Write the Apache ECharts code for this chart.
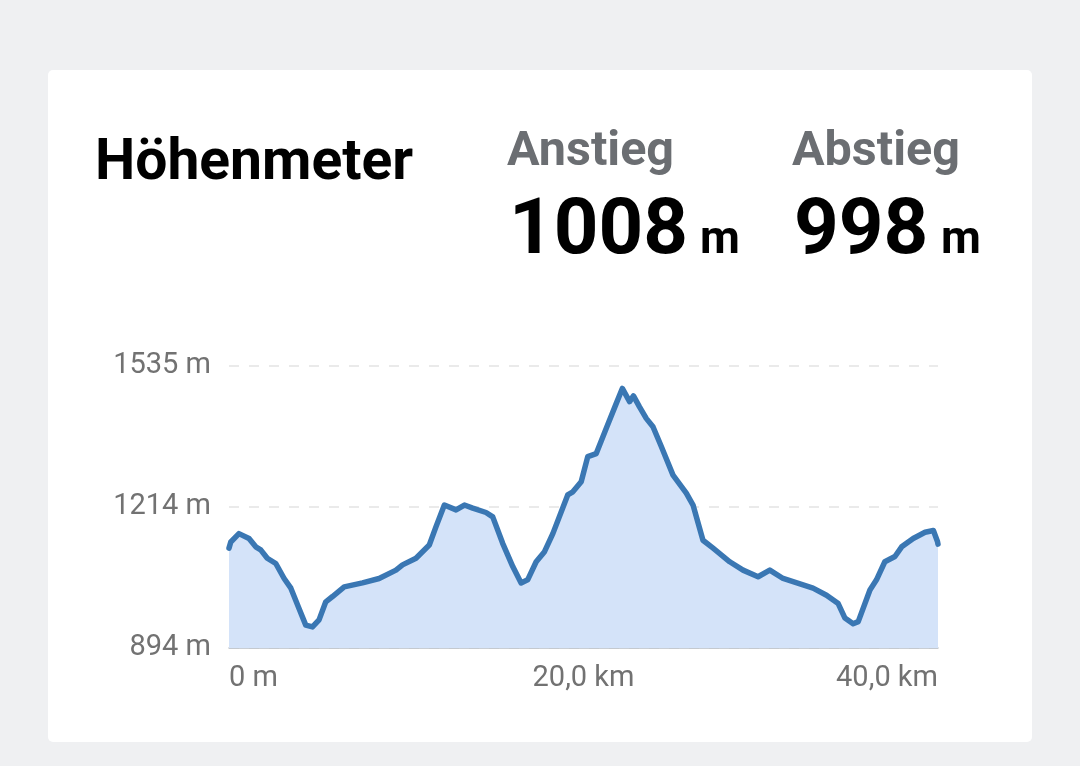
<!DOCTYPE html>
<html>
<head>
<meta charset="utf-8">
<script src="https://cdn.jsdelivr.net/npm/echarts@6/dist/echarts.min.js"></script>
<style>
html,body{margin:0;padding:0;background:#eff0f2;}
#chart{width:1080px;height:766px;}
</style>
</head>
<body>
<div id="chart"></div>
<script>
// Distance along route (km)
const distanceKm = [0, 0.10, 0.56, 1.13, 1.51, 1.79, 2.16, 2.64, 3.11, 3.49, 3.95, 4.33, 4.71, 5.08, 5.46, 5.84, 6.50, 7.53, 8.47, 9.42, 9.79, 10.55, 11.30, 11.68, 12.15, 12.81, 13.28, 13.75, 14.50, 14.88, 15.44, 16.01, 16.48, 16.85, 17.33, 17.80, 18.27, 19.11, 19.40, 19.87, 20.24, 20.72, 21.28, 21.85, 22.19, 22.60, 22.82, 23.16, 23.54, 23.92, 24.39, 25.05, 25.80, 26.18, 26.74, 27.31, 28.25, 29.00, 29.85, 30.51, 31.26, 32.95, 33.71, 34.37, 34.75, 35.21, 35.50, 36.16, 36.53, 37.00, 37.57, 37.95, 38.60, 39.27, 39.74, 39.97, 40.0];
// Elevation (m)
const elevationM = [1121, 1135, 1154, 1143, 1124, 1117, 1098, 1086, 1052, 1030, 984, 946, 942, 958, 999, 1011, 1033, 1042, 1052, 1071, 1083, 1098, 1128, 1170, 1219, 1208, 1219, 1212, 1202, 1192, 1132, 1079, 1042, 1049, 1090, 1113, 1154, 1242, 1249, 1272, 1329, 1336, 1393, 1450, 1484, 1454, 1467, 1442, 1416, 1397, 1352, 1287, 1246, 1219, 1139, 1121, 1090, 1071, 1056, 1071, 1052, 1030, 1014, 995, 962, 949, 954, 1026, 1049, 1090, 1102, 1124, 1143, 1157, 1161, 1136, 1130];

const xTickLabels = ['0 m', '20,0 km', '40,0 km'];
const yTickLabels = ['894 m', '1214 m', '1535 m'];

const titleText = 'Höhenmeter';
const ascentLabel = 'Anstieg';
const ascentValue = '1008';
const descentLabel = 'Abstieg';
const descentValue = '998';
const unitText = 'm';

const seriesData = distanceKm.map((d, i) => [d, elevationM[i]]);

const chart = echarts.init(document.getElementById('chart'), null, {renderer: 'canvas'});
const FONT = 'Roboto, "Noto Sans", sans-serif';

chart.setOption({
  backgroundColor: '#eff0f2',
  animation: false,
  graphic: [
    {type: 'rect', z: -10, shape: {x: 48, y: 70, width: 984, height: 672, r: 5}, style: {fill: '#ffffff'}},
    {type: 'text', x: 95, y: 164.7, style: {text: titleText, font: 'bold 57px ' + FONT, fill: '#000000', verticalAlign: 'middle', align: 'left'}},
    {type: 'text', x: 507, y: 152.9, style: {text: ascentLabel, font: 'bold 48.5px ' + FONT, fill: '#6b6e72', verticalAlign: 'middle', align: 'left'}},
    {type: 'text', x: 509, y: 233.5, style: {text: ascentValue, font: 'bold 78px ' + FONT, fill: '#000000', verticalAlign: 'middle', align: 'left'}},
    {type: 'text', x: 700, y: 241.5, style: {text: unitText, font: 'bold 46px ' + FONT, fill: '#000000', verticalAlign: 'middle', align: 'left'}},
    {type: 'text', x: 792, y: 152.9, style: {text: descentLabel, font: 'bold 48.5px ' + FONT, fill: '#6b6e72', verticalAlign: 'middle', align: 'left'}},
    {type: 'text', x: 794, y: 233.5, style: {text: descentValue, font: 'bold 78px ' + FONT, fill: '#000000', verticalAlign: 'middle', align: 'left'}},
    {type: 'text', x: 941, y: 241.5, style: {text: unitText, font: 'bold 46px ' + FONT, fill: '#000000', verticalAlign: 'middle', align: 'left'}}
  ],
  grid: {left: 229, right: 142, top: 366, bottom: 118, containLabel: false},
  xAxis: {
    type: 'value', min: 0, max: 40, interval: 20,
    axisLine: {show: true, lineStyle: {color: '#b8bec6', width: 1.5}},
    axisTick: {show: false},
    splitLine: {show: false},
    axisLabel: {
      show: true, margin: 16, fontSize: 29, fontFamily: FONT, color: '#727272',
      alignMinLabel: 'left', alignMaxLabel: 'right',
      formatter: function (v) { return xTickLabels[Math.round(v / 20)]; }
    }
  },
  yAxis: {
    type: 'value', min: 894, max: 1535, interval: 320.5,
    axisLine: {show: false},
    axisTick: {show: false},
    splitLine: {show: true, lineStyle: {color: '#e4e4e4', width: 1.5, type: [10, 10]}},
    axisLabel: {
      show: true, margin: 18, fontSize: 29, fontFamily: FONT, color: '#727272',
      formatter: function (v) { return yTickLabels[Math.round((v - 894) / 320.5)]; }
    }
  },
  series: [{
    type: 'line',
    data: seriesData,
    showSymbol: false,
    smooth: false,
    lineStyle: {color: '#3a77b3', width: 5.5, join: 'round', cap: 'round'},
    areaStyle: {color: '#d4e3f9', opacity: 1},
    z: 3
  }]
});
</script>
</body>
</html>
